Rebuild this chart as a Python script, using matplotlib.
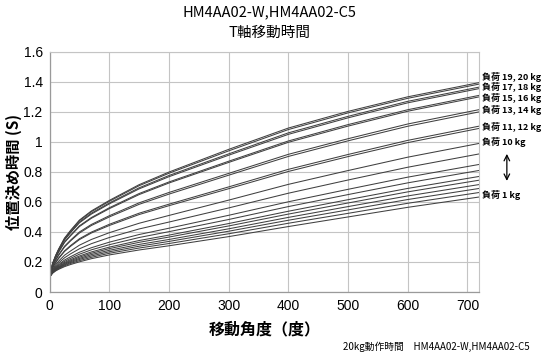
import matplotlib
matplotlib.use("Agg")
import matplotlib.pyplot as plt

angles = [0, 5, 10, 15, 25, 35, 50, 70, 100, 150, 200, 300, 400, 500, 600, 720]

load_01 = [0.1, 0.125, 0.140, 0.151, 0.169, 0.183, 0.201, 0.222, 0.247, 0.280, 0.308, 0.369, 0.436, 0.500, 0.564, 0.633]
load_02 = [0.1, 0.127, 0.143, 0.155, 0.175, 0.190, 0.209, 0.231, 0.258, 0.293, 0.323, 0.388, 0.458, 0.524, 0.591, 0.663]
load_03 = [0.1, 0.129, 0.146, 0.159, 0.180, 0.196, 0.217, 0.240, 0.268, 0.305, 0.337, 0.405, 0.478, 0.547, 0.616, 0.690]
load_04 = [0.1, 0.130, 0.149, 0.162, 0.185, 0.202, 0.224, 0.249, 0.278, 0.317, 0.350, 0.421, 0.497, 0.569, 0.640, 0.716]
load_05 = [0.1, 0.132, 0.152, 0.166, 0.190, 0.208, 0.232, 0.258, 0.289, 0.331, 0.366, 0.440, 0.519, 0.593, 0.667, 0.745]
load_06 = [0.1, 0.134, 0.154, 0.170, 0.196, 0.215, 0.240, 0.267, 0.299, 0.343, 0.379, 0.456, 0.538, 0.615, 0.690, 0.770]
load_07 = [0.1, 0.137, 0.159, 0.176, 0.204, 0.224, 0.252, 0.281, 0.315, 0.363, 0.402, 0.483, 0.569, 0.649, 0.727, 0.810]
load_08 = [0.1, 0.140, 0.164, 0.182, 0.213, 0.235, 0.265, 0.295, 0.332, 0.383, 0.425, 0.511, 0.601, 0.684, 0.765, 0.850]
load_09 = [0.1, 0.146, 0.172, 0.193, 0.228, 0.254, 0.288, 0.322, 0.363, 0.420, 0.466, 0.560, 0.658, 0.746, 0.831, 0.920]
load_10 = [0.1, 0.151, 0.181, 0.205, 0.245, 0.273, 0.312, 0.350, 0.395, 0.458, 0.510, 0.612, 0.717, 0.809, 0.898, 0.990]
load_11 = [0.1, 0.160, 0.195, 0.223, 0.270, 0.304, 0.349, 0.393, 0.443, 0.516, 0.575, 0.688, 0.803, 0.902, 0.995, 1.090]
load_12 = [0.1, 0.161, 0.197, 0.226, 0.274, 0.309, 0.355, 0.399, 0.451, 0.525, 0.585, 0.700, 0.817, 0.916, 1.010, 1.105]
load_13 = [0.1, 0.170, 0.211, 0.244, 0.300, 0.340, 0.393, 0.443, 0.500, 0.584, 0.652, 0.778, 0.903, 1.007, 1.104, 1.200]
load_14 = [0.1, 0.172, 0.213, 0.247, 0.305, 0.345, 0.400, 0.450, 0.508, 0.594, 0.663, 0.790, 0.917, 1.021, 1.119, 1.215]
load_15 = [0.1, 0.180, 0.227, 0.265, 0.330, 0.374, 0.436, 0.491, 0.555, 0.649, 0.726, 0.863, 0.997, 1.105, 1.204, 1.300]
load_16 = [0.1, 0.181, 0.228, 0.267, 0.333, 0.378, 0.441, 0.496, 0.561, 0.656, 0.733, 0.871, 1.006, 1.115, 1.214, 1.310]
load_17 = [0.1, 0.186, 0.236, 0.276, 0.347, 0.395, 0.461, 0.519, 0.587, 0.687, 0.768, 0.911, 1.050, 1.160, 1.260, 1.355]
load_18 = [0.1, 0.187, 0.237, 0.279, 0.350, 0.398, 0.466, 0.525, 0.593, 0.694, 0.776, 0.920, 1.060, 1.170, 1.270, 1.365]
load_19 = [0.1, 0.189, 0.241, 0.283, 0.356, 0.406, 0.475, 0.535, 0.604, 0.708, 0.791, 0.940, 1.082, 1.193, 1.290, 1.385]
load_20 = [0.1, 0.190, 0.242, 0.285, 0.359, 0.410, 0.479, 0.540, 0.610, 0.715, 0.799, 0.950, 1.092, 1.203, 1.300, 1.395]

series = [load_01, load_02, load_03, load_04, load_05, load_06, load_07,
          load_08, load_09, load_10, load_11, load_12, load_13, load_14,
          load_15, load_16, load_17, load_18, load_19, load_20]

x_ticks = [0, 100, 200, 300, 400, 500, 600, 700]
y_ticks = [0, 0.2, 0.4, 0.6, 0.8, 1.0, 1.2, 1.4, 1.6]
y_tick_labels = ["0", "0.2", "0.4", "0.6", "0.8", "1", "1.2", "1.4", "1.6"]

right_labels = ["負荷 19, 20 kg", "負荷 17, 18 kg", "負荷 15, 16 kg",
                "負荷 13, 14 kg", "負荷 11, 12 kg", "負荷 10 kg", "負荷 1 kg"]
right_label_y = [1.433, 1.367, 1.293, 1.213, 1.10, 1.0, 0.647]

title_1 = "HM4AA02-W,HM4AA02-C5"
title_2 = "T軸移動時間"
x_label = "移動角度（度）"
y_label = "位置決め時間 (S)"
footnote = "20kg動作時間　HM4AA02-W,HM4AA02-C5"

plt.rcParams['font.family'] = ['Noto Sans CJK JP', 'DejaVu Sans']

fig = plt.figure(figsize=(5.42, 3.57), dpi=100)
ax = fig.add_axes([0.0915, 0.182, 0.793, 0.673])

for s in series:
    ax.plot(angles, s, color="#404040", linewidth=0.75, solid_joinstyle="round")

ax.set_xlim(0, 720)
ax.set_ylim(0, 1.6)
ax.set_xticks(x_ticks)
ax.set_yticks(y_ticks)
ax.set_yticklabels(y_tick_labels)
ax.grid(True, color="#c4c4c4", linewidth=0.8)
ax.set_axisbelow(True)
for side in ["top", "right"]:
    ax.spines[side].set_color("#c4c4c4")
    ax.spines[side].set_linewidth(0.8)
for side in ["left", "bottom"]:
    ax.spines[side].set_color("#9a9a9a")
    ax.spines[side].set_linewidth(0.9)
ax.tick_params(length=0, pad=5, labelsize=10, colors="black")
for lab in ax.get_xticklabels() + ax.get_yticklabels():
    lab.set_family(['Liberation Sans', 'DejaVu Sans'])

ax.set_xlabel(x_label, fontsize=11.5, fontweight="bold", labelpad=6)
ax.set_ylabel(y_label, fontsize=11, fontweight="bold", labelpad=1)

fig.text(0.498, 0.965, title_1, ha="center", va="center", fontsize=10.5)
fig.text(0.498, 0.907, title_2, ha="center", va="center", fontsize=10.5)

for txt, yv in zip(right_labels, right_label_y):
    ax.text(724, yv, txt, ha="left", va="center", fontsize=6.5,
            fontweight="bold", clip_on=False)

ax.annotate("", xy=(766, 0.74), xytext=(766, 0.92),
            arrowprops=dict(arrowstyle="<->", color="black", lw=0.9,
                            shrinkA=0, shrinkB=0),
            annotation_clip=False)

fig.text(0.978, 0.014, footnote, ha="right", va="bottom", fontsize=7)

fig.savefig("out.png", dpi=100)
